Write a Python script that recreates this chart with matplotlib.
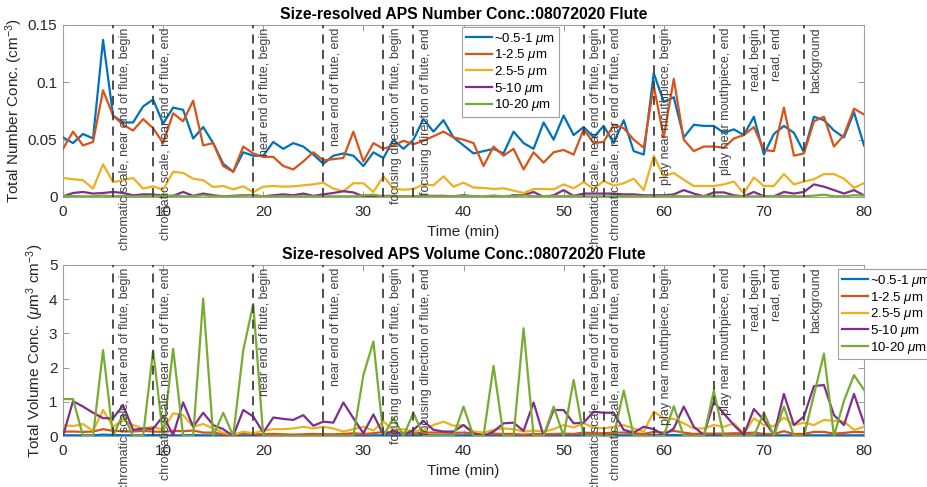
import matplotlib
matplotlib.use("Agg")
import matplotlib.pyplot as plt

plt.rcParams['font.family'] = ['Liberation Sans', 'DejaVu Sans']
plt.rcParams['mathtext.fontset'] = 'custom'
plt.rcParams['mathtext.rm'] = 'Liberation Sans'
plt.rcParams['mathtext.it'] = 'Liberation Sans:italic'

# ---------------- data ----------------
time_min = list(range(0, 81))

series_labels = ['~0.5-1 $\\mu$m', '1-2.5 $\\mu$m', '2.5-5 $\\mu$m', '5-10 $\\mu$m', '10-20 $\\mu$m']
series_colors = ['#0072BD', '#D95319', '#EDB120', '#7E2F8E', '#77AC30']

num_05_1 = [0.052, 0.047, 0.055, 0.051, 0.137, 0.071, 0.065, 0.065, 0.079, 0.085,
            0.064, 0.078, 0.076, 0.051, 0.061, 0.047, 0.029, 0.022, 0.039, 0.036,
            0.036, 0.048, 0.042, 0.047, 0.044, 0.037, 0.029, 0.036, 0.038, 0.036,
            0.027, 0.039, 0.034, 0.050, 0.042, 0.050, 0.068, 0.057, 0.067, 0.052,
            0.045, 0.038, 0.040, 0.042, 0.038, 0.057, 0.047, 0.042, 0.065, 0.050,
            0.071, 0.054, 0.061, 0.052, 0.062, 0.047, 0.067, 0.040, 0.037, 0.108,
            0.083, 0.087, 0.052, 0.063, 0.062, 0.062, 0.056, 0.059, 0.054, 0.070,
            0.037, 0.055, 0.062, 0.056, 0.039, 0.070, 0.067, 0.058, 0.052, 0.074,
            0.045]
num_1_25 = [0.042, 0.057, 0.045, 0.048, 0.093, 0.071, 0.063, 0.058, 0.068, 0.060,
            0.047, 0.073, 0.066, 0.084, 0.045, 0.047, 0.027, 0.022, 0.044, 0.038,
            0.035, 0.035, 0.027, 0.024, 0.031, 0.039, 0.032, 0.033, 0.034, 0.057,
            0.031, 0.047, 0.042, 0.045, 0.049, 0.046, 0.049, 0.053, 0.057, 0.052,
            0.050, 0.047, 0.027, 0.044, 0.036, 0.042, 0.024, 0.039, 0.030, 0.039,
            0.041, 0.037, 0.059, 0.047, 0.048, 0.063, 0.060, 0.050, 0.043, 0.097,
            0.052, 0.103, 0.050, 0.040, 0.044, 0.044, 0.043, 0.051, 0.054, 0.061,
            0.041, 0.040, 0.078, 0.036, 0.038, 0.066, 0.070, 0.044, 0.054, 0.077,
            0.072]
num_25_5 = [0.0166, 0.0155, 0.0146, 0.0073, 0.0285, 0.013, 0.0146, 0.0166, 0.0073, 0.0093,
            0.0064, 0.022, 0.021, 0.016, 0.0146, 0.0087, 0.0096, 0.0067, 0.0093, 0.0042,
            0.009, 0.0096, 0.009, 0.0093, 0.0102, 0.011, 0.0125, 0.0073, 0.005, 0.012,
            0.012, 0.0044, 0.018, 0.0073, 0.0064, 0.007, 0.011, 0.0102, 0.018, 0.009,
            0.0125, 0.0082, 0.0079, 0.007, 0.0076, 0.0055, 0.0035, 0.007, 0.007, 0.0067,
            0.011, 0.0076, 0.013, 0.007, 0.014, 0.010, 0.012, 0.016, 0.006, 0.036,
            0.018, 0.021, 0.015, 0.0096, 0.0096, 0.0096, 0.011, 0.0135, 0.0032, 0.017,
            0.0096, 0.0096, 0.020, 0.011, 0.0135, 0.0155, 0.020, 0.020, 0.016, 0.008,
            0.012]
num_5_10 = [0.0006, 0.0035, 0.0044, 0.003, 0.0035, 0.0044, 0.0035, 0.0015, 0.0023, 0.0023,
            0.001, 0.001, 0.0044, 0.001, 0.003, 0.0015, 0.0006, 0.001, 0.0015, 0.0015,
            0.0006, 0.0015, 0.0023, 0.0015, 0.003, 0.001, 0.0023, 0.0035, 0.005, 0.004,
            0.0006, 0.0006, 0.001, 0.001, 0.0006, 0.0006, 0.001, 0.001, 0.001, 0.0006,
            0.0015, 0.0006, 0.0, 0.001, 0.0, 0.0015, 0.0015, 0.0044, 0.0, 0.0015,
            0.006, 0.001, 0.003, 0.003, 0.003, 0.003, 0.0023, 0.0023, 0.0015, 0.0015,
            0.0015, 0.0023, 0.006, 0.003, 0.0006, 0.004, 0.004, 0.0015, 0.0006, 0.0044,
            0.0006, 0.0006, 0.0044, 0.003, 0.0044, 0.011, 0.009, 0.006, 0.003, 0.006,
            0.0015]
num_10_20 = [0.0008, 0.0008, 0.0006, 0.0006, 0.0012, 0.0006, 0.0010, 0.0006, 0.0006, 0.0012,
             0.0006, 0.0012, 0.0006, 0.0006, 0.0015, 0.0006, 0.0008, 0.0006, 0.0012, 0.0015,
             0.0006, 0.0006, 0.0006, 0.0006, 0.0006, 0.0006, 0.0006, 0.0006, 0.0006, 0.0006,
             0.0015, 0.0020, 0.0006, 0.0008, 0.0006, 0.0008, 0.0006, 0.0006, 0.0006, 0.0006,
             0.0010, 0.0006, 0.0006, 0.0012, 0.0006, 0.0006, 0.0015, 0.0006, 0.0006, 0.0010,
             0.0006, 0.0012, 0.0006, 0.0006, 0.0006, 0.0006, 0.0010, 0.0006, 0.0006, 0.0006,
             0.0006, 0.0010, 0.0006, 0.0006, 0.0006, 0.0010, 0.0006, 0.0006, 0.0006, 0.0006,
             0.0006, 0.0006, 0.0010, 0.0006, 0.0006, 0.0012, 0.0020, 0.0006, 0.0006, 0.0015,
             0.0012]

vol_05_1 = [0.02, 0.02, 0.02, 0.02, 0.04, 0.03, 0.02, 0.02, 0.02, 0.03,
            0.02, 0.02, 0.02, 0.03, 0.02, 0.02, 0.01, 0.01, 0.02, 0.02,
            0.02, 0.02, 0.02, 0.01, 0.02, 0.02, 0.01, 0.02, 0.02, 0.02,
            0.01, 0.02, 0.02, 0.02, 0.02, 0.02, 0.02, 0.02, 0.02, 0.02,
            0.02, 0.02, 0.01, 0.02, 0.02, 0.02, 0.01, 0.02, 0.02, 0.02,
            0.02, 0.02, 0.02, 0.02, 0.02, 0.02, 0.02, 0.02, 0.02, 0.03,
            0.02, 0.03, 0.02, 0.02, 0.02, 0.02, 0.02, 0.02, 0.02, 0.02,
            0.02, 0.02, 0.02, 0.02, 0.02, 0.02, 0.02, 0.02, 0.02, 0.02,
            0.02]
vol_1_25 = [0.13, 0.13, 0.12, 0.13, 0.20, 0.15, 0.14, 0.13, 0.15, 0.13,
            0.12, 0.15, 0.14, 0.16, 0.10, 0.10, 0.05, 0.04, 0.08, 0.06,
            0.05, 0.06, 0.05, 0.04, 0.05, 0.06, 0.05, 0.05, 0.06, 0.08,
            0.06, 0.08, 0.12, 0.08, 0.10, 0.08, 0.10, 0.10, 0.10, 0.09,
            0.10, 0.08, 0.04, 0.07, 0.06, 0.06, 0.04, 0.06, 0.05, 0.06,
            0.07, 0.06, 0.10, 0.08, 0.08, 0.10, 0.10, 0.08, 0.06, 0.12,
            0.10, 0.15, 0.10, 0.06, 0.07, 0.07, 0.07, 0.08, 0.08, 0.10,
            0.06, 0.06, 0.14, 0.06, 0.06, 0.12, 0.12, 0.07, 0.09, 0.12,
            0.11]
vol_25_5 = [0.32, 0.29, 0.35, 0.15, 0.76, 0.27, 0.47, 0.32, 0.22, 0.27,
            0.18, 0.66, 0.61, 0.27, 0.35, 0.22, 0.10, 0.03, 0.13, 0.08,
            0.16, 0.20, 0.20, 0.22, 0.27, 0.22, 0.27, 0.22, 0.13, 0.20,
            0.27, 0.16, 0.42, 0.18, 0.20, 0.13, 0.18, 0.32, 0.42, 0.30,
            0.32, 0.13, 0.10, 0.18, 0.22, 0.20, 0.13, 0.16, 0.13, 0.20,
            0.32, 0.25, 0.37, 0.25, 0.22, 0.27, 0.32, 0.22, 0.13, 0.71,
            0.52, 0.50, 0.37, 0.22, 0.22, 0.32, 0.27, 0.37, 0.08, 0.52,
            0.32, 0.29, 0.54, 0.32, 0.39, 0.32, 0.47, 0.44, 0.42, 0.18,
            0.27]
vol_5_10 = [0.0, 1.02, 0.86, 0.68, 0.52, 0.52, 0.90, 0.18, 0.22, 0.21,
            0.58, 0.03, 0.98, 0.27, 0.68, 0.32, 0.20, 0.0, 0.76, 0.57,
            0.10, 0.54, 0.50, 0.47, 0.61, 0.30, 0.42, 0.39, 0.98, 0.52,
            0.08, 0.63, 0.03, 0.16, 0.03, 0.18, 0.44, 0.18, 0.13, 0.13,
            0.32, 0.08, 0.0, 0.13, 0.37, 0.39, 0.15, 0.98, 0.0, 0.76,
            0.76, 0.37, 0.39, 0.71, 0.68, 0.68, 0.18, 0.10, 0.27, 0.20,
            0.03, 0.22, 0.86, 0.27, 0.03, 1.00, 0.66, 0.32, 0.03, 0.79,
            0.47, 0.03, 1.23, 0.32, 0.57, 1.46, 1.49, 0.61, 0.32, 1.23,
            0.37]
vol_10_20 = [1.08, 1.08, 0.0, 0.0, 2.51, 0.0, 0.65, 0.0, 0.0, 2.50,
             0.0, 2.55, 0.0, 0.0, 4.02, 0.0, 0.68, 0.0, 2.50, 3.86,
             0.0, 0.0, 0.0, 0.0, 0.0, 0.0, 0.0, 0.0, 0.0, 0.0,
             1.78, 2.76, 0.0, 0.53, 0.0, 0.68, 0.0, 0.0, 0.0, 0.0,
             0.86, 0.0, 0.0, 2.05, 0.0, 0.0, 3.15, 0.0, 0.0, 0.86,
             0.0, 1.64, 0.0, 0.0, 0.0, 0.0, 1.33, 0.0, 0.0, 0.0,
             0.0, 0.87, 0.0, 0.0, 0.0, 1.32, 0.0, 0.0, 0.0, 0.0,
             0.68, 0.0, 0.86, 0.0, 0.0, 1.20, 2.41, 0.0, 1.03, 1.78,
             1.35]

event_times = [5, 9, 19, 26, 32, 35, 52, 54, 59, 65, 68, 70, 74]
event_labels = ['chromatic scale, near end of flute, begin',
                'chromatic scale, near end of flute, end',
                'near end of flute, begin',
                'near end of flute, end',
                'focusing direction of flute, begin',
                'focusing direction of flute, end',
                'chromatic scale, near end of flute, begin',
                'chromatic scale, near end of flute, end',
                'play near mouthpiece, begin',
                'play near mouthpiece, end',
                'read, begin',
                'read, end',
                'background']

number_series = [num_05_1, num_1_25, num_25_5, num_5_10, num_10_20]
volume_series = [vol_05_1, vol_1_25, vol_25_5, vol_5_10, vol_10_20]

# ---------------- figure ----------------
W, H = 927, 487
fig = plt.figure(figsize=(W / 100, H / 100), dpi=100)

def px_axes(left, top, right, bottom):
    return fig.add_axes([left / W, 1 - bottom / H, (right - left) / W, (bottom - top) / H])

ax1 = px_axes(63, 25, 864, 197)
ax2 = px_axes(63, 265, 864, 436)

text_col = '#262626'
line_col = '#404040'

def style(ax, ylim, yticks, yticklabels, title, ylabel):
    ax.set_xlim(0, 80)
    ax.set_ylim(*ylim)
    ax.set_xticks([0, 10, 20, 30, 40, 50, 60, 70, 80])
    ax.set_yticks(yticks)
    ax.set_yticklabels(yticklabels)
    ax.tick_params(direction='in', top=True, right=True, length=4, width=0.6,
                   colors='#8a8a8a', labelcolor=text_col, labelsize=11, pad=4)
    ax.tick_params(axis='x', pad=6)
    for s in ax.spines.values():
        s.set_color('#a0a0a0')
        s.set_linewidth(0.8)
    ax.set_title(title, fontsize=11.3, fontweight='bold', color='black', pad=4)
    ax.set_xlabel('Time (min)', fontsize=11, color=text_col, labelpad=4)
    ax.set_ylabel(ylabel, fontsize=11, color=text_col, labelpad=2)

for ax, series in [(ax1, number_series), (ax2, volume_series)]:
    for vals, lab, col in zip(series, series_labels, series_colors):
        ax.plot(time_min, vals, color=col, lw=1.6, label=lab, zorder=3)
    for et, el in zip(event_times, event_labels):
        ax.axvline(et, color=line_col, lw=1.3, ls=(0, (5, 3.5)), zorder=4)
        ax.annotate(el, xy=(et, 1), xycoords=('data', 'axes fraction'),
                    xytext=(4.5, -2), textcoords='offset points',
                    rotation=90, ha='left', va='top', fontsize=9,
                    color=line_col, annotation_clip=False, zorder=5)

style(ax1, (0, 0.15), [0, 0.05, 0.1, 0.15], ['0', '0.05', '0.1', '0.15'],
      'Size-resolved APS Number Conc.:08072020 Flute',
      'Total Number Conc. (cm$^{-3}$)')
style(ax2, (0, 5), [0, 1, 2, 3, 4, 5], ['0', '1', '2', '3', '4', '5'],
      'Size-resolved APS Volume Conc.:08072020 Flute',
      'Total Volume Conc. ($\\mu$m$^3$ cm$^{-3}$)')

leg_kw = dict(fontsize=9.5, frameon=True, fancybox=False, edgecolor='#a0a0a0',
              handlelength=2.0, handletextpad=0.15, labelspacing=0.05,
              borderpad=0.3, borderaxespad=0.0, framealpha=1)
l1 = ax1.legend(loc='upper left', bbox_to_anchor=(0.498, 0.99), **leg_kw)
l2 = ax2.legend(loc='upper left', bbox_to_anchor=(0.9675, 0.977), **leg_kw)
for l in (l1, l2):
    l.get_frame().set_linewidth(0.8)
    l.set_zorder(10)

fig.savefig('out.png', dpi=100)
